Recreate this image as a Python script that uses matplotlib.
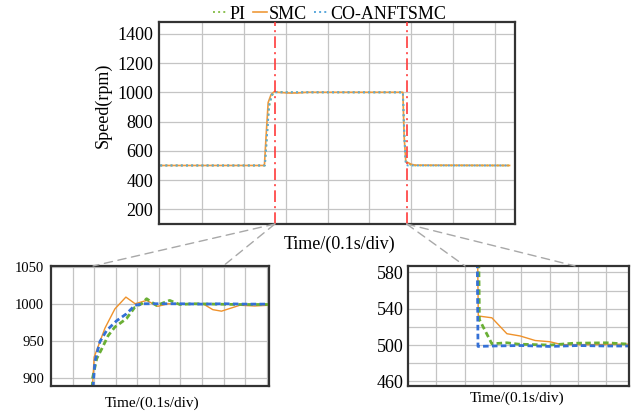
import matplotlib.pyplot as plt
from matplotlib.patches import ConnectionPatch

plt.rcParams['font.family'] = ['Liberation Serif', 'DejaVu Serif']

# main chart, time in divisions (0.1 s/div)
t_pi = [0, 2.50, 2.55, 2.60, 2.66, 2.73, 2.80, 3.0, 5.80, 5.83, 5.87, 5.92, 6.0, 6.1, 8.35]
v_pi = [500, 500, 700, 900, 975, 1000, 1003, 1000, 1000, 750, 530, 515, 503, 500, 500]
t_smc = [0, 2.49, 2.53, 2.58, 2.65, 2.73, 2.80, 3.1, 3.3, 3.5, 5.80, 5.83, 5.87, 5.92, 6.0, 6.1, 8.35]
v_smc = [500, 500, 700, 930, 985, 1005, 1000, 995, 996, 1000, 1000, 700, 525, 520, 508, 502, 500]
t_co = [0, 2.50, 2.55, 2.60, 2.67, 2.73, 2.80, 5.80, 5.83, 5.87, 5.92, 6.0, 8.35]
v_co = [500, 500, 700, 910, 985, 1000, 1000, 1000, 720, 505, 500, 500, 500]
events = [2.74, 5.89]

# zoom 1 (speed rise)
u1_smc = [1.85, 2.0, 2.5, 2.96, 3.47, 3.9, 4.43, 4.95, 5.42, 7.04, 7.5, 7.9, 8.75, 9.44, 10.1]
y1_smc = [850, 928, 967, 993, 1009, 1000, 1004.5, 996.5, 1000, 1000, 992, 990, 998, 997, 998]
u1_pi = [1.88, 1.93, 2.12, 2.35, 2.65, 2.96, 3.5, 3.89, 4.2, 4.43, 4.89, 5.5, 5.97, 6.6, 8.6, 10.1]
y1_pi = [850, 900, 926, 939, 957, 968.5, 980, 995.5, 1000, 1006.8, 997.7, 1004.5, 999, 1000, 999, 999]
u1_co = [1.85, 2.04, 2.27, 2.58, 3.04, 3.5, 3.89, 4.3, 6.0, 7.0, 8.0, 9.0, 10.1]
y1_co = [850, 923, 949, 964, 977, 986.5, 998, 1000, 1000, 999.5, 1000, 999.5, 999.5]

# zoom 2 (speed drop)
u2_smc = [2.45, 2.48, 2.96, 3.49, 3.96, 4.49, 5.0, 5.43, 6.5, 7.8]
y2_smc = [620, 532, 530, 512.5, 510, 505, 503.7, 500.5, 500.5, 501]
u2_pi = [2.49, 2.52, 2.96, 3.49, 3.9, 5.0, 5.84, 7.0, 7.8]
y2_pi = [620, 528, 501.4, 502.5, 501, 500, 502, 502.5, 501]
u2_co = [2.44, 2.47, 3.0, 4.0, 5.0, 6.0, 7.0, 7.8]
y2_co = [620, 498.5, 499, 499.5, 498.5, 499.5, 499, 499]

fig = plt.figure(figsize=(6.38, 4.13), dpi=100)

grid_kw = dict(color='#c4c4c4', linewidth=0.9)


def style_axes(a):
    for s in a.spines.values():
        s.set_linewidth(1.6)
        s.set_color('#333333')
    a.set_axisbelow(True)
    a.grid(True, which='both', **grid_kw)
    a.tick_params(which='both', length=0)
    a.set_xticklabels([], minor=False)


# main axes
ax = fig.add_axes([0.2492, 0.4576, 0.558, 0.489])
l_pi, = ax.plot(t_pi, v_pi, color='#8cc152', linestyle=':', linewidth=1.4, label='PI')
l_smc, = ax.plot(t_smc, v_smc, color='#ef9a3a', linestyle='-', linewidth=1.2, label='SMC')
l_co, = ax.plot(t_co, v_co, color='#5aa8dc', linestyle=':', linewidth=1.4, label='CO-ANFTSMC')
for e in events:
    ax.axvline(e, color='#ff3b3b', linestyle=(0, (7, 2.5, 1.2, 2.5)), linewidth=1.2, zorder=3)
ax.set_xlim(-0.03, 8.48)
ax.set_ylim(100, 1480)
ax.set_xticks(range(1, 9))
ax.set_yticks(range(200, 1401, 200))
style_axes(ax)
ax.tick_params(axis='y', labelsize=13, pad=4)
ax.set_ylabel('Speed(rpm)', fontsize=13)
ax.yaxis.set_label_coords(-0.132, 0.589)
ax.set_xlabel('Time/(0.1s/div)', fontsize=13)
ax.xaxis.set_label_coords(0.508, -0.058)

fig.legend(handles=[l_pi, l_smc, l_co], loc='center', bbox_to_anchor=(0.517, 0.966),
           ncol=3, frameon=False, fontsize=13, handlelength=0.8, handletextpad=0.1,
           columnspacing=0.4)

# inset 1
ax1 = fig.add_axes([0.0799, 0.0654, 0.3417, 0.2906])
ax1.plot(u1_smc, y1_smc, color='#ef922b', linewidth=1.0)
ax1.plot(u1_pi, y1_pi, color='#6aaf35', linestyle=(0, (2, 1.2)), linewidth=2.0)
ax1.plot(u1_co, y1_co, color='#3470d6', linestyle=(0, (2, 1.2)), linewidth=2.0)
ax1.set_xlim(0, 10.1)
ax1.set_ylim(889, 1051)
ax1.set_xticks(range(1, 11))
ax1.set_yticks([900, 950, 1000, 1050])
style_axes(ax1)
ax1.tick_params(axis='y', labelsize=10.5, pad=5)
ax1.set_xlabel('Time/(0.1s/div)', fontsize=11)
ax1.xaxis.set_label_coords(0.463, -0.085)

# inset 2
ax2 = fig.add_axes([0.6395, 0.0654, 0.3464, 0.2906])
ax2.plot(u2_smc, y2_smc, color='#ef922b', linewidth=1.0)
ax2.plot(u2_pi, y2_pi, color='#6aaf35', linestyle=(0, (2, 1.2)), linewidth=2.0)
ax2.plot(u2_co, y2_co, color='#3470d6', linestyle=(0, (2, 1.2)), linewidth=2.0)
ax2.set_xlim(0, 7.8)
ax2.set_ylim(455, 587)
ax2.set_xticks(range(1, 8))
ax2.set_yticks([460, 500, 540, 580])
ax2.set_yticks([480, 520, 560], minor=True)
style_axes(ax2)
ax2.tick_params(axis='y', labelsize=13, pad=3)
ax2.set_xlabel('Time/(0.1s/div)', fontsize=11)
ax2.xaxis.set_label_coords(0.495, -0.05)

# dashed connectors from the event lines to the zoomed views
for e, a, fracs in [(events[0], ax1, (0.193, 0.79)), (events[1], ax2, (0.258, 0.756))]:
    for f in fracs:
        con = ConnectionPatch(xyA=(e, 100), coordsA=ax.transData,
                              xyB=(f, 1.0), coordsB=a.transAxes,
                              color='#a8a8a8', linestyle=(0, (6, 4)), linewidth=1.0)
        fig.add_artist(con)

fig.savefig('out.png', dpi=100)
